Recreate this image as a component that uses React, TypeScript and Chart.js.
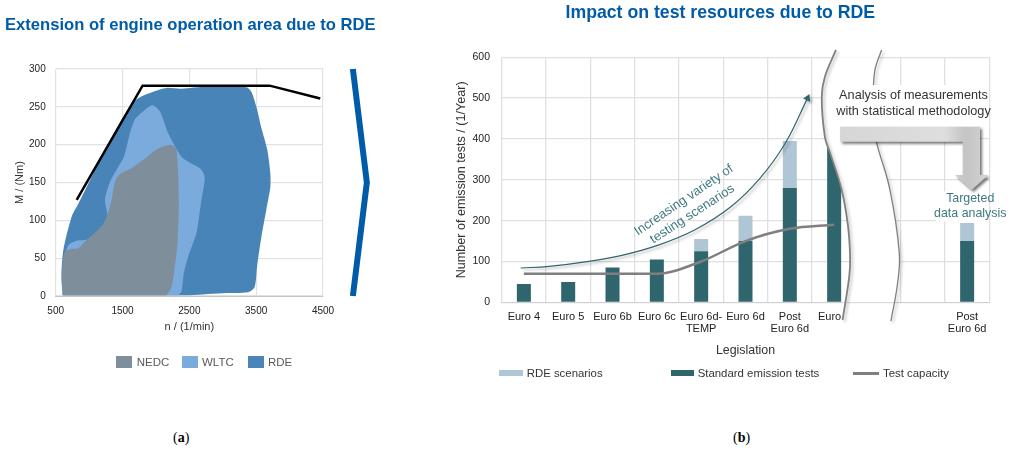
import { useEffect, useRef } from "react";
import { Chart, registerables } from "chart.js";

// left chart: operating areas, speed in 1/min and torque in Nm
const rpmTicks = [500, 1500, 2500, 3500, 4500];
const nedcRpm = [605, 595, 625, 714, 839, 938, 1013, 1187, 1262, 1337, 1386, 1461, 1636, 1810, 2034, 2233, 2308, 2343, 2323, 2283, 2233, 2158];
const nedcNm = [1, 30, 56, 62, 63, 72, 78, 92, 105, 127, 151, 161, 169, 180, 195, 200, 193, 127, 70, 39, 12, 1];
const wltcRpm = [605, 615, 689, 814, 988, 1187, 1262, 1272, 1237, 1312, 1411, 1521, 1611, 1685, 1810, 1949, 2059, 2183, 2382, 2532, 2681, 2731, 2681, 2646, 2606, 2482, 2417, 2382, 2332];
const wltcNm = [1, 43, 67, 73, 75, 92, 100, 109, 127, 151, 167, 184, 215, 233, 244, 252, 244, 215, 184, 175, 167, 156, 127, 105, 83, 52, 30, 6, 1];
const rdeRpm = [605, 585, 615, 739, 839, 1013, 1262, 1511, 1710, 1959, 2158, 2382, 2756, 3354, 3428, 3503, 3578, 3667, 3712, 3712, 3652, 3578, 3513, 3478, 3378, 3055, 2507];
const rdeNm = [1, 25, 61, 105, 122, 153, 197, 237, 260, 270, 275, 274, 277, 276, 270, 250, 222, 193, 162, 144, 114, 78, 39, 12, 5, 4, 1];
const fullLoadRpm = [814, 1800, 3702, 4459];
const fullLoadNm = [127, 278, 278, 261];
const chevronRpm = [4947, 5156, 4947];
const chevronNm = [300, 150, 0];

// right chart: tests per year
const legislation = [
  "Euro 4",
  "Euro 5",
  "Euro 6b",
  "Euro 6c",
  ["Euro 6d-", "TEMP"],
  "Euro 6d",
  ["Post", "Euro 6d"],
  "Euro\u00A0\u00A0\u00A0",
  "",
  "",
  ["Post", "Euro 6d"],
];
const standardTests = [45, 50, 85, 105, 125, 150, 280, 380, null, null, 150];
const rdeScenarios = [0, 0, 0, 0, 30, 62, 115, 0, null, null, 44];
const testCapacity = [70, 70, 70, 70, 100, 150, 180, 190, null, null, null];

// overlay shapes on the right chart, x is the category position
const varietyPos = [-0.07, 0.57, 1.39, 2.21, 3.03, 3.85, 4.67, 5.33, 5.9, 6.4];
const varietyVal = [84, 88, 99, 115, 140, 177, 234, 304, 390, 500];
const breakLeftPos = [7.04, 6.79, 6.72, 6.79, 6.91, 7.17, 7.31, 7.36, 7.34, 7.19];
const breakLeftVal = [618, 552, 503, 406, 365, 275, 189, 112, 63, -43];
const breakRightPos = [8.07, 7.92, 7.88, 7.88, 7.96, 8.26, 8.47, 8.43, 8.28];
const breakRightVal = [618, 569, 495, 439, 390, 275, 121, 46, -46];
const noteBoxPos = [7.0, 10.5, 10.5, 7.0];
const noteBoxVal = [532, 532, 428, 428];
const targetBoxPos = [9.3, 10.5, 10.5, 9.3];
const targetBoxVal = [272, 272, 198, 198];
const blockArrowPos = [7.135, 10.29, 10.29, 10.48, 10.1, 9.725, 9.9, 9.9, 7.135];
const blockArrowVal = [430, 430, 312, 312, 275, 312, 312, 393, 393];

const pts = (xs: number[], ys: number[]) => xs.map((x, i) => ({ x, y: ys[i] }));

const FONT = "'Liberation Sans', Arial, sans-serif";
const TEAL = "#2F666E";
const BLUE = "#005CA9";

// has to sit in front of the filler plugin, so the shadow also lands on fills
const shadowPlugin = {
  id: "datasetShadow",
  beforeDatasetDraw(chart: any, args: any) {
    const color = chart.data.datasets[args.index].shadowColor;
    if (!color) return;
    const ctx = chart.ctx;
    ctx.save();
    ctx.shadowColor = color;
    ctx.shadowBlur = 3;
    ctx.shadowOffsetX = 2;
    ctx.shadowOffsetY = 2;
  },
  afterDatasetDraw(chart: any, args: any) {
    if (chart.data.datasets[args.index].shadowColor) chart.ctx.restore();
  },
};

Chart.register(shadowPlugin, ...registerables);

const notesPlugin = {
  id: "notes",
  afterDatasetsDraw(chart: any) {
    const { ctx, scales } = chart;
    const write = (text: string, pos: number, val: number, color: string, size: number, angle = 0) => {
      ctx.save();
      ctx.translate(scales.xn.getPixelForValue(pos), scales.y.getPixelForValue(val));
      ctx.rotate((angle * Math.PI) / 180);
      ctx.font = `${size}px ${FONT}`;
      ctx.fillStyle = color;
      ctx.textAlign = "center";
      ctx.textBaseline = "middle";
      ctx.fillText(text, 0, 0);
      ctx.restore();
    };
    write("Increasing variety of", 3.61, 250, "#3F7980", 13, -34);
    write("testing scenarios", 3.8, 216, "#3F7980", 13, -33);
    write("Analysis of measurements", 8.79, 507, "#333333", 12.7);
    write("with statistical methodology", 8.79, 467, "#333333", 12.7);
    write("Targeted", 10.07, 255, "#3F7980", 12.4);
    write("data analysis", 10.07, 218, "#3F7980", 12.4);
  },
};

const OperationChart = () => {
  const ref = useRef<HTMLCanvasElement>(null);

  useEffect(() => {
    const area = (label: string, xs: number[], ys: number[], color: string, order: number) => ({
      label,
      data: pts(xs, ys),
      showLine: true,
      fill: "shape",
      backgroundColor: color,
      borderWidth: 0,
      pointRadius: 0,
      tension: 0.25,
      capBezierPoints: false,
      order,
    });

    const chart = new Chart(ref.current!, {
      type: "scatter",
      data: {
        datasets: [
          {
            data: pts(chevronRpm, chevronNm),
            showLine: true,
            borderColor: BLUE,
            borderWidth: 6,
            pointRadius: 0,
            clip: false,
            order: 0,
          },
          {
            data: pts(fullLoadRpm, fullLoadNm),
            showLine: true,
            borderColor: "#000000",
            borderWidth: 2.5,
            pointRadius: 0,
            order: 1,
          },
          area("NEDC", nedcRpm, nedcNm, "#7F8E9B", 2),
          area("WLTC", wltcRpm, wltcNm, "#7AABDC", 3),
          area("RDE", rdeRpm, rdeNm, "rgba(62,124,180,0.94)", 4),
        ] as any,
      },
      options: {
        responsive: false,
        animation: false,
        layout: { padding: { top: 69, right: 77, left: 0, bottom: 0 } },
        plugins: { legend: { display: false }, tooltip: { enabled: false } },
        scales: {
          x: {
            type: "linear",
            min: 500,
            max: 4500,
            afterBuildTicks: (axis: any) => {
              axis.ticks = rpmTicks.map((value) => ({ value }));
            },
            afterFit: (axis: any) => {
              axis.height = 49;
            },
            grid: { color: "#E2E2E2", lineWidth: 1.2, drawTicks: false },
            border: { color: "#C4C4C4" },
            ticks: {
              color: "#222222",
              padding: 9,
              maxRotation: 0,
              callback: (value: any) => String(value),
              font: { family: FONT, size: 10 },
            },
            title: {
              display: true,
              text: "n / (1/min)",
              color: "#333333",
              font: { family: FONT, size: 11 },
              padding: { top: 0, bottom: 11 },
            },
          },
          y: {
            min: 0,
            max: 300,
            afterFit: (axis: any) => {
              axis.width = 55.7;
            },
            grid: { color: "#E2E2E2", lineWidth: 1.2, drawTicks: false },
            border: { color: "#E2E2E2" },
            ticks: { color: "#222222", padding: 10, stepSize: 50, font: { family: FONT, size: 10 } },
            title: {
              display: true,
              text: "M / (Nm)",
              color: "#333333",
              font: { family: FONT, size: 11 },
              padding: { top: 13, bottom: 0 },
            },
          },
        },
      },
    });

    return () => {
      chart.destroy();
    };
  }, []);

  return <canvas ref={ref} width={400} height={345} style={{ position: "absolute", left: 0, top: 0 }} />;
};

const ResourcesChart = () => {
  const ref = useRef<HTMLCanvasElement>(null);

  useEffect(() => {
    const canvas = ref.current!;
    const g = canvas.getContext("2d")!;
    // the grey arrow fades towards its bend
    const arrowFill = g.createLinearGradient(400, 0, 548, 0);
    arrowFill.addColorStop(0, "#D6D6D6");
    arrowFill.addColorStop(0.7, "#DEDEDE");
    arrowFill.addColorStop(0.85, "#C4C4C4");
    arrowFill.addColorStop(1, "#D4D4D4");

    const overlay = (data: any, rest: any) => ({
      type: "scatter",
      xAxisID: "xn",
      yAxisID: "y",
      data,
      showLine: true,
      pointRadius: 0,
      borderWidth: 0,
      ...rest,
    });

    const chart = new Chart(canvas, {
      type: "bar",
      data: {
        labels: legislation as any,
        datasets: [
          overlay(pts(blockArrowPos, blockArrowVal), {
            fill: "shape",
            backgroundColor: arrowFill,
            shadowColor: "rgba(0,0,0,0.55)",
            order: 1,
          }),
          overlay(pts(noteBoxPos, noteBoxVal), { fill: "shape", backgroundColor: "#FFFFFF", order: 2 }),
          overlay(pts(targetBoxPos, targetBoxVal), { fill: "shape", backgroundColor: "#FFFFFF", order: 2 }),
          overlay(pts(breakLeftPos, breakLeftVal), {
            borderColor: "#808080",
            borderWidth: 1.8,
            tension: 0.4,
            capBezierPoints: false,
            clip: false,
            shadowColor: "rgba(0,0,0,0.25)",
            order: 3,
          }),
          overlay(pts(breakRightPos, breakRightVal), {
            borderColor: "#808080",
            borderWidth: 1.3,
            tension: 0.4,
            capBezierPoints: false,
            clip: false,
            shadowColor: "rgba(0,0,0,0.25)",
            order: 3,
          }),
          overlay(
            pts([...breakLeftPos, ...[...breakRightPos].reverse()], [...breakLeftVal, ...[...breakRightVal].reverse()]),
            {
              fill: "shape",
              backgroundColor: "#FFFFFF",
              tension: 0.4,
              capBezierPoints: false,
              order: 4,
            },
          ),
          overlay(pts(varietyPos, varietyVal), {
            borderColor: TEAL,
            borderWidth: 1.2,
            tension: 0.4,
            capBezierPoints: false,
            shadowColor: "rgba(0,0,0,0.3)",
            pointRadius: (c: any) => (c.dataIndex === varietyPos.length - 1 ? 4.5 : 0),
            pointStyle: "triangle",
            pointRotation: 25,
            pointBackgroundColor: TEAL,
            pointBorderWidth: 0,
            clip: false,
            order: 5,
          }),
          {
            type: "line",
            label: "Test capacity",
            data: testCapacity,
            borderColor: "#7F7F7F",
            borderWidth: 2.5,
            pointRadius: 0,
            cubicInterpolationMode: "monotone",
            order: 6,
          },
          {
            label: "Standard emission tests",
            data: standardTests,
            backgroundColor: TEAL,
            stack: "tests",
            grouped: false,
            categoryPercentage: 1,
            barPercentage: 0.316,
            order: 7,
          },
          {
            label: "RDE scenarios",
            data: rdeScenarios,
            backgroundColor: "#AFC6D4",
            stack: "tests",
            grouped: false,
            categoryPercentage: 1,
            barPercentage: 0.316,
            order: 8,
          },
        ] as any,
      },
      options: {
        responsive: false,
        animation: false,
        layout: { padding: { top: 57.3, right: 21.7, left: 0, bottom: 0 } },
        plugins: { legend: { display: false }, tooltip: { enabled: false } },
        scales: {
          x: {
            afterFit: (axis: any) => {
              axis.height = 62.7;
            },
            grid: { color: "#E0E0E0", lineWidth: 1.3, drawTicks: false },
            border: { color: "#D0D0D0" },
            ticks: {
              color: "#222222",
              padding: 8,
              autoSkip: false,
              maxRotation: 0,
              font: { family: FONT, size: 11, lineHeight: 1.15 },
            },
            title: {
              display: true,
              text: "Legislation",
              color: "#333333",
              font: { family: FONT, size: 12.4 },
              padding: { top: 0, bottom: 7 },
            },
          },
          // same span as the category axis, takes fractional positions for the overlays
          xn: { type: "linear", display: false, offset: false, min: -0.5, max: 10.5 },
          y: {
            min: 0,
            max: 600,
            afterFit: (axis: any) => {
              axis.width = 61.7;
            },
            grid: { color: "#E0E0E0", lineWidth: 1.3, drawTicks: false },
            border: { color: "#E0E0E0" },
            ticks: { color: "#222222", padding: 11.7, stepSize: 100, font: { family: FONT, size: 10.5 } },
            title: {
              display: true,
              text: "Number of emission tests / (1/Year)",
              color: "#333333",
              font: { family: FONT, size: 12.6 },
              padding: { top: 14, bottom: 0 },
            },
          },
        },
      },
      plugins: [notesPlugin],
    } as any);

    return () => {
      chart.destroy();
    };
  }, []);

  return <canvas ref={ref} width={571} height={365} style={{ position: "absolute", left: 440, top: 0 }} />;
};

const text = (left: number, centerY: number, size: number, color: string): React.CSSProperties => ({
  position: "absolute",
  left,
  top: centerY - size,
  lineHeight: `${size * 2}px`,
  fontSize: size,
  color,
  fontFamily: FONT,
  whiteSpace: "nowrap",
});

const swatch = (left: number, centerY: number, w: number, h: number, background: string): React.CSSProperties => ({
  position: "absolute",
  left,
  top: centerY - h / 2,
  width: w,
  height: h,
  background,
});

export default function App() {
  return (
    <div style={{ position: "absolute", left: 0, top: 0, width: 1011, height: 457, background: "#FFFFFF", overflow: "hidden" }}>
      <OperationChart />
      <ResourcesChart />

      <div style={{ ...text(5, 25, 16.6, BLUE), fontWeight: 700 }}>Extension of engine operation area due to RDE</div>
      <div style={{ ...text(565.5, 13, 17.7, BLUE), fontWeight: 700 }}>Impact on test resources due to RDE</div>

      <div style={swatch(115.7, 362, 16, 12, "#7F8E9B")} />
      <div style={text(136.7, 362, 11.5, "#595959")}>NEDC</div>
      <div style={swatch(181.7, 362, 16, 12, "#7AABDC")} />
      <div style={text(202, 362, 11.5, "#595959")}>WLTC</div>
      <div style={swatch(247.7, 362, 16, 12, "#4A85BA")} />
      <div style={text(268, 362, 11.5, "#595959")}>RDE</div>

      <div style={swatch(499.3, 373.3, 24, 6, "#AFC6D4")} />
      <div style={text(526.7, 373.3, 11.4, "#333333")}>RDE scenarios</div>
      <div style={swatch(670.7, 373.3, 23.6, 6, TEAL)} />
      <div style={text(697.7, 373.3, 11.4, "#333333")}>Standard emission tests</div>
      <div style={swatch(853.3, 373.3, 26, 2.5, "#7F7F7F")} />
      <div style={text(883, 373.3, 11.4, "#333333")}>Test capacity</div>

      <div style={{ ...text(173, 438, 14, "#000000"), fontFamily: "'Liberation Serif', serif" }}>
        (<b>a</b>)
      </div>
      <div style={{ ...text(733, 438, 14, "#000000"), fontFamily: "'Liberation Serif', serif" }}>
        (<b>b</b>)
      </div>
    </div>
  );
}
